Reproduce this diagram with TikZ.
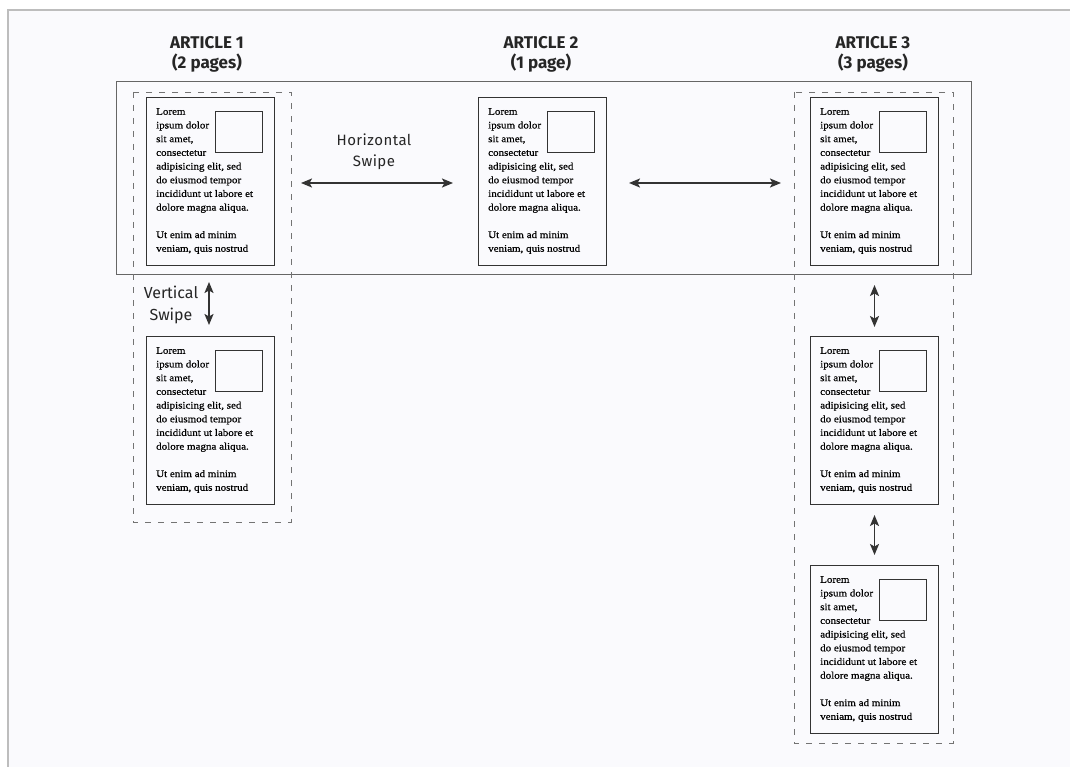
\documentclass[tikz,border=0pt]{standalone}
\usepackage{fontspec}
\setmainfont{Liberation Serif}
\newfontfamily\pagefont[FakeStretch=1.1,FakeBold=0.6]{Liberation Serif}
\newfontfamily\titlefont{Fira Sans}
\newfontfamily\labelfont[LetterSpace=3]{Fira Sans}
\newfontfamily\vlabelfont{Fira Sans}
\usetikzlibrary{arrows.meta}
\definecolor{bgcol}{HTML}{FAFAFD}
\definecolor{framecol}{HTML}{BDBDBD}
\definecolor{inkcol}{HTML}{333333}
\tikzset{
  pagebox/.style={draw=inkcol, line width=1pt, minimum width=128pt, minimum height=168pt, anchor=north west, inner sep=0pt},
  imgbox/.style={draw=inkcol, line width=0.9pt, minimum width=47pt, minimum height=41pt, anchor=north west, inner sep=0pt},
  pagetext/.style={anchor=north west, inner sep=0pt, align=left, font=\pagefont\fontsize{10}{13.7}\selectfont, text=black},
  articlebox/.style={draw=black!55, dashed, dash pattern=on 6pt off 7pt, line width=0.9pt},
  bandbox/.style={draw=black!60, line width=1pt},
  swipe/.style={{Stealth[length=11pt,width=9pt,inset=2.5pt]}-{Stealth[length=11pt,width=9pt,inset=2.5pt]}, line width=1.8pt, draw=inkcol},
  titletext/.style={align=center, font=\titlefont\bfseries\fontsize{17}{20}\selectfont, text=black!85},
  swipelabel/.style={align=center, font=\labelfont\fontsize{15}{21}\selectfont, text=black!85}
}
\newcommand\articlepage[3]{%
  \node[pagebox] (#1) at (#2,#3) {};
  \node[imgbox] (#1img) at ([xshift=69pt,yshift=-14pt]#1.north west) {};
  \node[pagetext] (#1txt) at ([xshift=10pt,yshift=-11pt]#1.north west)
    {Lorem\\ipsum dolor\\sit amet,\\consectetur\\adipisicing elit, sed\\do eiusmod tempor\\incididunt ut labore et\\dolore magna aliqua.\\[13.7pt]Ut enim ad minim\\veniam, quis nostrud};
}
\begin{document}
\begin{tikzpicture}[x=1pt,y=-1pt]
\useasboundingbox (0,0) rectangle (1070,767);
\fill[white] (0,0) rectangle (1070,767);
\fill[bgcol] (8,10) rectangle (1070,767);
\draw[framecol, line width=1.5pt] (8,767) -- (8,10) -- (1070,10);

% titles
\node[titletext] (t1) at (207,54) {ARTICLE 1\\(2 pages)};
\node[titletext] (t2) at (541,54) {ARTICLE 2\\(1 page)};
\node[titletext] (t3) at (873,54) {ARTICLE 3\\(3 pages)};

% horizontal band
\draw[bandbox] (116,82) rectangle (971,274);

% article groups
\draw[articlebox] (133,92) rectangle (291,522);
\draw[articlebox] (794,92) rectangle (953,743);

% pages
\articlepage{a1p1}{146}{97}
\articlepage{a1p2}{146}{336}
\articlepage{a2p1}{478}{97}
\articlepage{a3p1}{810}{97}
\articlepage{a3p2}{810}{336}
\articlepage{a3p3}{810}{565}

% horizontal swipes
\draw[swipe] ([xshift=26pt,yshift=-1.5pt]a1p1.east) -- ([xshift=-25pt,yshift=-1.5pt]a2p1.west);
\draw[swipe] ([xshift=22pt,yshift=-1.5pt]a2p1.east) -- ([xshift=-29pt,yshift=-1.5pt]a3p1.west);
\node[swipelabel] (hlab) at (374,152) {Horizontal\\Swipe};

% vertical swipes
\coordinate (v1a) at ([yshift=-16pt]a1p1.south -| 209,0);
\coordinate (v1b) at ([yshift=11pt]a1p2.north -| 209,0);
\draw[swipe] (v1a) -- (v1b);
\node[align=center, font=\vlabelfont\fontsize{16}{22}\selectfont, text=black!85] (vlab) at (171,305) {Vertical\\Swipe};
\draw[swipe] ([yshift=-19pt]a3p1.south) -- ([yshift=9pt]a3p2.north);
\draw[swipe] ([yshift=-10pt]a3p2.south) -- ([yshift=10pt]a3p3.north);
\end{tikzpicture}
\end{document}
